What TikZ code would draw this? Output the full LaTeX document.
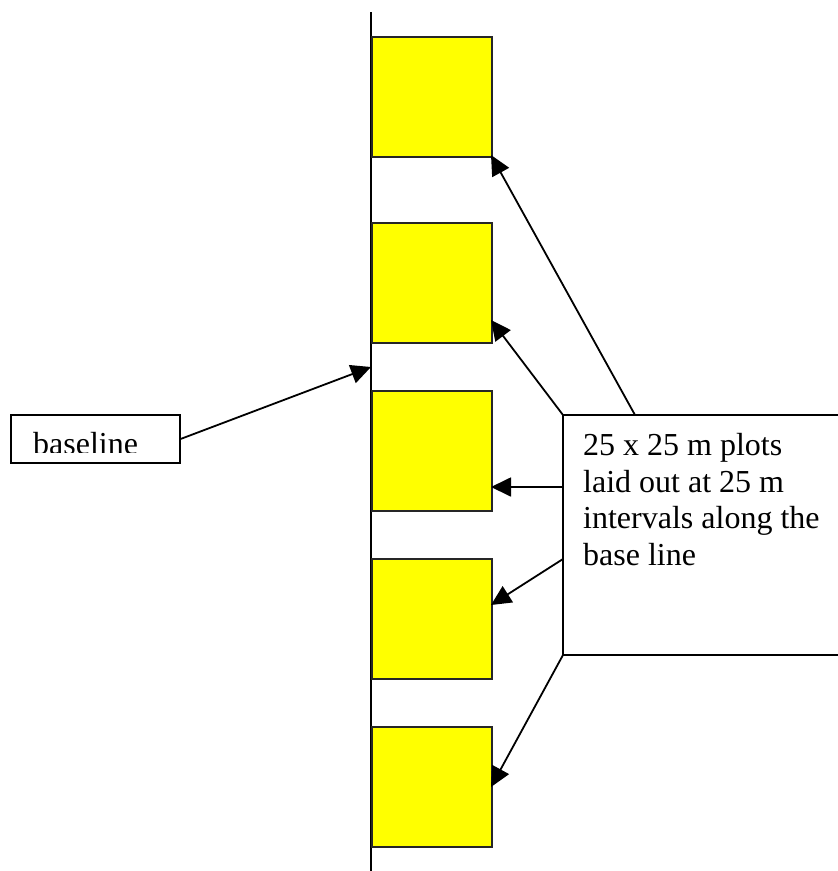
\documentclass[tikz,border=0pt]{standalone}
\usepackage{fontspec}
\setmainfont{Liberation Serif}
\usetikzlibrary{arrows.meta}
\definecolor{plotyellow}{RGB}{255,255,0}
\begin{document}
\begin{tikzpicture}[x=1pt,y=-1pt,
  ln/.style={line width=1.8pt, draw=black},
  plotbox/.style={draw=black!85, line width=1.8pt, fill=plotyellow, minimum width=120pt, minimum height=120pt, inner sep=0pt, anchor=north west},
  arr/.style={ln, -{Triangle[length=20pt,width=19pt]}, shorten >=0pt},
  txt/.style={font=\fontsize{32}{36.7}\selectfont}
]
\useasboundingbox (0,0) rectangle (838,871);
% baseline
\coordinate (top) at (371,12);
\coordinate (bot) at (371,871);
\draw[ln] (top) -- (bot);
% plots
\node[plotbox] (p1) at (371,36) {};
\node[plotbox] (p2) at (371,222) {};
\node[plotbox] (p3) at (371,390) {};
\node[plotbox] (p4) at (371,558) {};
\node[plotbox] (p5) at (371,726) {};
% arrow targets
\coordinate (t1) at (491,155);
\coordinate (t2) at (491,320);
\coordinate (t3) at (491,487);
\coordinate (t4) at (491,605);
\coordinate (t5) at (491,787);
\coordinate (tb) at (371,367);
% note box (open to the right)
\coordinate (nNE) at (838,415);
\coordinate (nNW) at (563,415);
\coordinate (nSW) at (563,655);
\coordinate (nSE) at (838,655);
\coordinate (s1) at (635,415);
\coordinate (s3) at (563,487);
\coordinate (s4) at (563,559);
\node[txt, anchor=north west, inner sep=0pt, align=left] (note) at (583,433)
  {25 x 25 m plots\\laid out at 25 m\\intervals along the\\base line};
\draw[ln] (nNE) -- (nNW) -- (nSW) -- (nSE);
% baseline label
\node[draw=black, line width=1.8pt, fill=white, minimum width=169pt, minimum height=48pt, inner sep=0pt, anchor=north west] (bl) at (10,414) {};
\begin{scope}
\clip (10,414) rectangle (179,452);
\node[txt, anchor=base west, inner sep=0pt] (bltext) at (33,454) {baseline};
\end{scope}
% arrows
\draw[arr] (bl.east) -- (tb);
\draw[arr] (s1) -- (t1);
\draw[arr] (nNW) -- (t2);
\draw[arr] (s3) -- (t3);
\draw[arr] (s4) -- (t4);
\draw[arr] (nSW) -- (t5);
\end{tikzpicture}
\end{document}
